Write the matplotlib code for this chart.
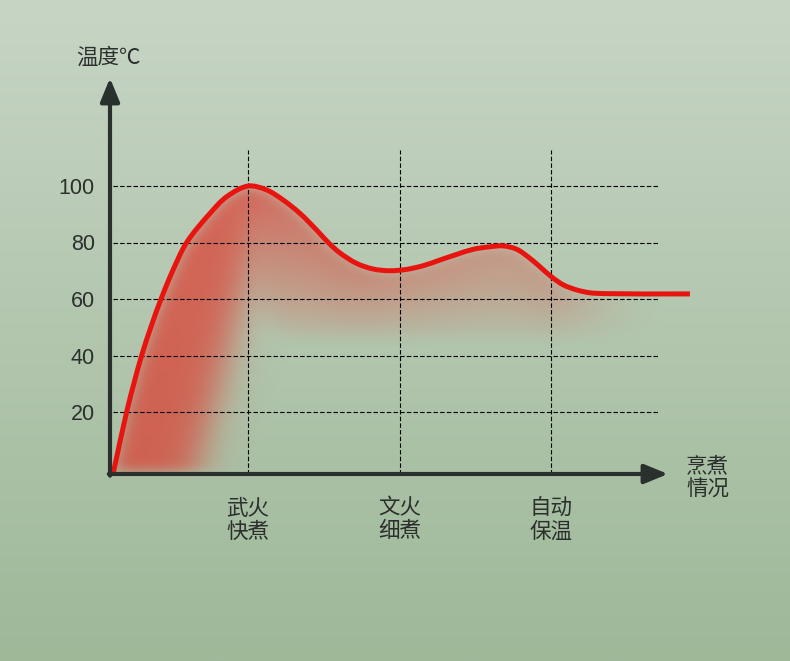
import numpy as np
import matplotlib
matplotlib.use("Agg")
import matplotlib.pyplot as plt
from matplotlib.path import Path
from matplotlib.patches import PathPatch

plt.rcParams['font.family'] = ['Noto Sans CJK SC', 'DejaVu Sans']

# ---- data ----
stage_pos = [1, 2, 3]
stage_labels = ["武火\n快煮", "文火\n细煮", "自动\n保温"]
y_ticks = [20, 40, 60, 80, 100]
y_label = "温度℃"
x_label = "烹煮\n情况"

time_x = [0.111, 0.199, 0.2475, 0.298, 0.360, 0.426, 0.503, 0.595, 0.749, 0.859,
          1.002, 1.123, 1.233, 1.343, 1.453, 1.537, 1.607, 1.717,
          1.827, 1.937, 2.048, 2.157, 2.267, 2.378, 2.487, 2.597, 2.685, 2.774,
          2.861, 2.927, 3.002, 3.081, 3.170, 3.257, 3.368, 3.917]
temp_y = [-1.5, 20, 30.2, 40, 50.2, 60, 70, 80, 90.3, 96.2,
          100, 98.6, 95, 90.3, 84.4, 79.6, 76.3, 72.6,
          70.6, 70.0, 70.5, 71.8, 73.8, 75.8, 77.6, 78.5, 78.8, 77.6,
          74.4, 71.4, 67.9, 65.0, 63.2, 62.2, 61.9, 61.8]

# ---- figure ----
W, H = 790, 661
fig = plt.figure(figsize=(W / 100, H / 100), dpi=100)

bg = fig.add_axes([0, 0, 1, 1], zorder=-10)
bg.axis('off')
top_c = np.array([199, 213, 197]) / 255
bot_c = np.array([158, 184, 152]) / 255
t = np.linspace(0, 1, 256)[:, None]
grad = top_c[None, None, :] * (1 - t[..., None]) + bot_c[None, None, :] * t[..., None]
grad = np.repeat(grad, 2, axis=1)
bg.imshow(grad, aspect='auto', extent=[0, 1, 0, 1])
bg.set_xlim(0, 1); bg.set_ylim(0, 1)

left, right, top, bottom = 110, 660, 150, 474
ax = fig.add_axes([left / W, 1 - bottom / H, (right - left) / W, (bottom - top) / H])
ax.patch.set_alpha(0)
x0 = 1 - (248 - left) / 151.5
x1 = 1 + (right - 248) / 151.5
y_0px = 468.5
ppy = 2.825
ylo = (y_0px - bottom) / ppy
yhi = (y_0px - top) / ppy
ax.set_xlim(x0, x1)
ax.set_ylim(ylo, yhi)
for s in ax.spines.values():
    s.set_visible(False)

# ---- smooth curve path (centripetal Catmull-Rom -> cubic Bezier) in display space ----
Pd = ax.transData.transform(np.column_stack([time_x, temp_y]).astype(float))
n = len(Pd)
ext = np.vstack([2 * Pd[0] - Pd[1], Pd, 2 * Pd[-1] - Pd[-2]])
verts_d = [Pd[0]]
codes = [Path.MOVETO]
for i in range(1, n):
    p0, p1, p2, p3 = ext[i - 1], ext[i], ext[i + 1], ext[i + 2]
    d1 = max(np.linalg.norm(p1 - p0) ** 0.5, 1e-6)
    d2 = max(np.linalg.norm(p2 - p1) ** 0.5, 1e-6)
    d3 = max(np.linalg.norm(p3 - p2) ** 0.5, 1e-6)
    m1 = (p1 - p0) / d1 - (p2 - p0) / (d1 + d2) + (p2 - p1) / d2
    m2 = (p2 - p1) / d2 - (p3 - p1) / (d2 + d3) + (p3 - p2) / d3
    m1 *= d2
    m2 *= d2
    verts_d += [p1 + m1 / 3.0, p2 - m2 / 3.0, p2]
    codes += [Path.CURVE4] * 3
verts = ax.transData.inverted().transform(np.array(verts_d))
curve_path = Path(verts, codes)
poly = curve_path.to_polygons(closed_only=False)[0]
order = np.argsort(poly[:, 0])
px_curve, py_curve = poly[order, 0], poly[order, 1]

# ---- blurred red shadow ----
nx, ny = right - left, bottom - top
gx = np.linspace(x0, x1, nx)
gy = np.linspace(yhi, ylo, ny)
X, Y = np.meshgrid(gx, gy)
cy = np.interp(gx, px_curve, py_curve, left=np.nan, right=np.nan)
CY = np.broadcast_to(cy, X.shape)
valid = ~np.isnan(CY)
CYf = np.nan_to_num(CY, nan=-100)
inside = (Y <= CYf) & (Y >= -1.5)
w_left = 1 / (1 + np.exp((X - (0.66 + 0.005 * np.clip(Y, 0, 100))) / 0.07))
depth = CYf - Y
band_floor = np.clip(CYf - 55, 6, 40)
w_band = np.clip(1 - (depth / (band_floor + 10)), 0, 1) ** 0.7
w_fade = np.clip((3.75 - X) / 0.8, 0, 1)
strength_right = np.interp(gx, [0.9, 1.3, 2.0, 3.0, 3.7], [0.78, 0.62, 0.42, 0.36, 0.1])
alpha = np.where(inside, np.maximum(0.74 * w_left, strength_right[None, :] * w_band * w_fade), 0)


def blur(a, sigma, axis):
    r = int(3 * sigma)
    k = np.exp(-0.5 * (np.arange(-r, r + 1) / sigma) ** 2)
    k /= k.sum()
    return np.apply_along_axis(lambda v: np.convolve(np.pad(v, r, mode='edge'), k, mode='valid'), axis, a)


alpha = blur(alpha, 8, 1)
alpha = blur(alpha, 6, 0)
alpha = np.where((Y > CYf + 0.5) | ~valid, 0, alpha)
rgba = np.zeros((ny, nx, 4))
rgba[..., 0] = 220 / 255
rgba[..., 1] = 64 / 255
rgba[..., 2] = 52 / 255
rgba[..., 3] = np.clip(alpha, 0, 1)
ax.imshow(rgba, extent=[x0, x1, ylo, yhi], aspect='auto', zorder=1, interpolation='bilinear')

# ---- grid ----
for v in y_ticks:
    ax.axhline(v, xmin=0.006, color='black', lw=0.8, ls=(0, (4, 2)), zorder=2)
for p in stage_pos:
    ax.axvline(p, color='black', lw=0.8, ls=(0, (4, 2)), zorder=2)

# ---- curve ----
ax.add_patch(PathPatch(curve_path, facecolor='none', edgecolor='#e8140f', lw=3.6,
                       capstyle='butt', joinstyle='round', zorder=4, clip_on=False))

# ---- axes with arrows ----
axis_c = '#2a302d'
x_tip = 1 + (668 - 248) / 151.5
y_tip = (y_0px - 78) / ppy
aprops = dict(arrowstyle='-|>,head_length=1.1,head_width=0.45', lw=3,
              color=axis_c, shrinkA=0, shrinkB=0, mutation_scale=13)
ax.annotate('', xy=(x_tip, ylo), xytext=(x0 - 0.008, ylo),
            arrowprops=aprops, annotation_clip=False, zorder=5)
ax.annotate('', xy=(x0, y_tip), xytext=(x0, ylo - 0.6),
            arrowprops=aprops, annotation_clip=False, zorder=5)

# ---- ticks & labels ----
txt_c = '#2b302d'
ax.set_yticks(y_ticks)
ax.set_yticklabels([str(v) for v in y_ticks], fontsize=15.5, color=txt_c,
                   family=['Liberation Sans', 'DejaVu Sans'])
ax.tick_params(axis='y', length=0, pad=11)
ax.set_xticks(stage_pos)
ax.set_xticklabels(stage_labels, fontsize=15.5, color=txt_c, linespacing=1.05)
ax.tick_params(axis='x', length=0, pad=17)

ax.text(x0 - 0.01, (y_0px - 58) / ppy, y_label, fontsize=15.5, color=txt_c,
        ha='center', va='center', clip_on=False)
ax.text(1 + (686 - 248) / 151.5, (y_0px - 478) / ppy, x_label, fontsize=15.5, color=txt_c,
        ha='left', va='center', linespacing=1.05, clip_on=False)

fig.savefig('out.png', dpi=100)
